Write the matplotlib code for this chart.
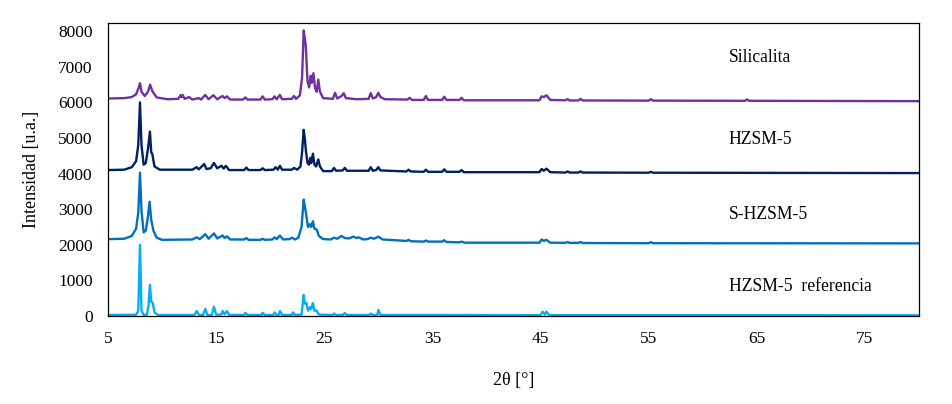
import matplotlib
matplotlib.use("Agg")
import matplotlib.pyplot as plt

plt.rcParams['font.family'] = ['Liberation Serif', 'DejaVu Serif']

# === data (2theta, intensity) ===
silicalita = [
    (5, 6110), (6.5, 6120), (7.2, 6150), (7.6, 6230), (7.85, 6420), (7.96, 6540), (8.1, 6300),
    (8.4, 6180), (8.7, 6300), (8.9, 6500), (9.1, 6320), (9.5, 6140), (10.5, 6090),
    (11.5, 6100), (11.7, 6200), (11.8, 6150), (11.9, 6210), (12.1, 6100), (12.5, 6150), (12.8, 6080),
    (13.4, 6120), (13.6, 6080), (14.0, 6210), (14.3, 6090), (14.75, 6200), (15.1, 6090),
    (15.6, 6180), (15.8, 6120), (16.0, 6170), (16.3, 6080), (17.5, 6080), (17.7, 6140), (17.9, 6080),
    (19.1, 6080), (19.3, 6170), (19.5, 6080), (20.2, 6090), (20.4, 6170), (20.6, 6090),
    (20.9, 6210), (21.1, 6090), (22.0, 6100), (22.2, 6180), (22.4, 6100), (22.75, 6200),
    (22.95, 6700), (23.1, 8020), (23.2, 7800), (23.3, 7560), (23.45, 6600), (23.6, 6420),
    (23.75, 6750), (23.85, 6550), (24.0, 6820), (24.15, 6400), (24.3, 6300), (24.45, 6640),
    (24.6, 6300), (24.9, 6120), (25.8, 6100), (26.0, 6270), (26.2, 6110), (26.6, 6180),
    (26.8, 6260), (27.0, 6120), (28.0, 6090), (29.1, 6100), (29.3, 6260), (29.5, 6110),
    (29.8, 6150), (30.0, 6270), (30.2, 6150), (30.6, 6090), (32.7, 6080), (32.9, 6130),
    (33.1, 6070), (34.2, 6070), (34.4, 6180), (34.6, 6070), (35.9, 6070), (36.1, 6160),
    (36.3, 6070), (37.5, 6070), (37.7, 6130), (37.9, 6060), (44.9, 6060), (45.1, 6170),
    (45.3, 6150), (45.55, 6200), (45.9, 6070), (47.3, 6060), (47.5, 6090), (47.7, 6055),
    (48.5, 6055), (48.7, 6100), (48.9, 6055), (55.0, 6050), (55.2, 6090), (55.4, 6050),
    (63.9, 6045), (64.1, 6080), (64.3, 6045), (80, 6035),
]

hzsm5 = [
    (5, 4100), (6.5, 4110), (7.2, 4180), (7.6, 4350), (7.8, 4800), (7.96, 6000), (8.1, 4800),
    (8.3, 4250), (8.5, 4300), (8.7, 4700), (8.88, 5180), (9.0, 4600), (9.1, 4550), (9.3, 4200),
    (9.8, 4110), (12.8, 4110), (13.2, 4180), (13.4, 4120), (13.9, 4270), (14.1, 4130),
    (14.5, 4150), (14.8, 4300), (15.1, 4150), (15.5, 4220), (15.7, 4140), (15.9, 4220),
    (16.2, 4100), (17.6, 4100), (17.8, 4170), (18.0, 4100), (19.1, 4100), (19.3, 4150),
    (19.5, 4100), (20.3, 4110), (20.5, 4180), (20.7, 4110), (20.9, 4220), (21.1, 4110),
    (22.0, 4110), (22.2, 4160), (22.5, 4110), (22.8, 4200), (22.95, 4600), (23.1, 5230),
    (23.2, 5000), (23.3, 4650), (23.45, 4300), (23.6, 4250), (23.7, 4440), (23.8, 4300),
    (23.95, 4560), (24.1, 4250), (24.25, 4200), (24.45, 4400), (24.6, 4200), (24.9, 4070),
    (25.7, 4070), (25.9, 4160), (26.1, 4080), (26.7, 4090), (26.9, 4160), (27.1, 4080),
    (29.1, 4080), (29.3, 4180), (29.5, 4080), (29.8, 4100), (30.0, 4180), (30.2, 4090),
    (32.6, 4060), (32.8, 4110), (33.0, 4060), (34.2, 4050), (34.4, 4110), (34.6, 4050),
    (35.9, 4050), (36.1, 4120), (36.3, 4050), (37.5, 4050), (37.7, 4100), (37.9, 4040),
    (44.9, 4040), (45.1, 4130), (45.3, 4080), (45.55, 4140), (45.9, 4040), (47.3, 4030),
    (47.5, 4060), (47.7, 4030), (48.5, 4030), (48.7, 4060), (48.9, 4030), (55.0, 4025),
    (55.2, 4050), (55.4, 4025), (80, 4015),
]

s_hzsm5 = [
    (5, 2160), (6.5, 2170), (7.2, 2250), (7.6, 2450), (7.8, 2900), (7.96, 4030), (8.1, 2950),
    (8.3, 2350), (8.5, 2400), (8.7, 2800), (8.85, 3210), (9.0, 2700), (9.2, 2400), (9.5, 2200),
    (10.0, 2140), (12.8, 2150), (13.2, 2210), (13.5, 2160), (14.0, 2300), (14.3, 2170),
    (14.8, 2320), (15.1, 2180), (15.6, 2260), (15.8, 2190), (16.0, 2240), (16.3, 2150),
    (17.6, 2150), (17.8, 2190), (18.0, 2140), (19.1, 2140), (19.3, 2170), (19.5, 2140),
    (20.2, 2150), (20.4, 2210), (20.6, 2160), (20.9, 2260), (21.2, 2150), (21.8, 2160),
    (22.0, 2200), (22.3, 2150), (22.6, 2200), (22.9, 2500), (23.1, 3270), (23.2, 3100),
    (23.3, 2900), (23.5, 2500), (23.7, 2580), (23.8, 2500), (23.95, 2660), (24.1, 2450),
    (24.3, 2430), (24.5, 2250), (24.9, 2160), (25.6, 2150), (25.9, 2200), (26.2, 2170),
    (26.6, 2250), (26.9, 2190), (27.3, 2180), (27.7, 2230), (28.0, 2190), (28.2, 2210),
    (28.6, 2150), (29.0, 2160), (29.3, 2200), (29.6, 2170), (30.0, 2230), (30.4, 2150),
    (32.6, 2110), (32.8, 2140), (33.0, 2100), (34.2, 2090), (34.4, 2120), (34.6, 2090),
    (35.9, 2090), (36.1, 2130), (36.3, 2080), (37.5, 2070), (37.7, 2090), (38.0, 2060),
    (44.9, 2060), (45.1, 2150), (45.3, 2110), (45.55, 2140), (45.9, 2060), (47.3, 2055),
    (47.5, 2080), (47.7, 2055), (48.5, 2055), (48.7, 2080), (48.9, 2050), (55.0, 2045),
    (55.2, 2075), (55.4, 2045), (80, 2040),
]

hzsm5_ref = [
    (5, 30), (7.6, 35), (7.8, 150), (7.96, 2000), (8.1, 150), (8.3, 30), (8.6, 40), (8.75, 300),
    (8.88, 880), (9.0, 400), (9.15, 360), (9.3, 100), (9.6, 30), (13.0, 30), (13.2, 140),
    (13.4, 30), (13.8, 30), (14.0, 200), (14.2, 30), (14.6, 30), (14.8, 260), (15.0, 40),
    (15.5, 40), (15.6, 140), (15.8, 50), (16.0, 140), (16.2, 30), (17.6, 30), (17.7, 90),
    (17.9, 30), (19.2, 30), (19.3, 90), (19.5, 30), (20.3, 30), (20.4, 100), (20.6, 30),
    (20.8, 30), (20.9, 140), (21.1, 30), (22.0, 30), (22.1, 100), (22.3, 30), (22.9, 40),
    (23.1, 590), (23.2, 350), (23.35, 370), (23.5, 150), (23.7, 250), (23.8, 200),
    (23.95, 360), (24.1, 150), (24.3, 150), (24.5, 40), (25.8, 30), (25.9, 70), (26.1, 30),
    (26.7, 30), (26.9, 80), (27.1, 30), (29.2, 30), (29.3, 70), (29.5, 30), (29.9, 30),
    (30.0, 170), (30.2, 30), (45.0, 25), (45.2, 120), (45.4, 40), (45.55, 120), (45.8, 25),
    (80, 20),
]

labels = ["Silicalita", "HZSM-5", "S-HZSM-5", "HZSM-5  referencia"]
label_y = [7250, 4970, 2865, 815]
series = [silicalita, hzsm5, s_hzsm5, hzsm5_ref]
colors = ["#7030A0", "#002060", "#0070C0", "#00B0F0"]

# === plot ===
fig = plt.figure(figsize=(9.53, 4.04), dpi=100)
ax = fig.add_axes([0.1133, 0.2178, 0.851, 0.7252])

for data, c in zip(series, colors):
    xs, ys = zip(*data)
    ax.plot(xs, ys, color=c, lw=1.7, solid_joinstyle='round')

for lab, yy in zip(labels, label_y):
    ax.text(62.4, yy, lab, fontsize=12.7, va='center', ha='left')

ax.set_xlim(5, 80)
ax.set_ylim(0, 8230)
ax.set_xticks(range(5, 80, 10))
ax.set_yticks(range(0, 8001, 1000))
ax.tick_params(axis='both', length=0, labelsize=12.5)
ax.tick_params(axis='x', pad=11)
ax.tick_params(axis='y', pad=11)
for s in ax.spines.values():
    s.set_linewidth(0.9)
    s.set_color('black')

ax.set_xlabel("2θ [°]", fontsize=13, labelpad=18)
ax.set_ylabel("Intensidad [u.a.]", fontsize=13, labelpad=13)

fig.savefig("out.png", dpi=100)
